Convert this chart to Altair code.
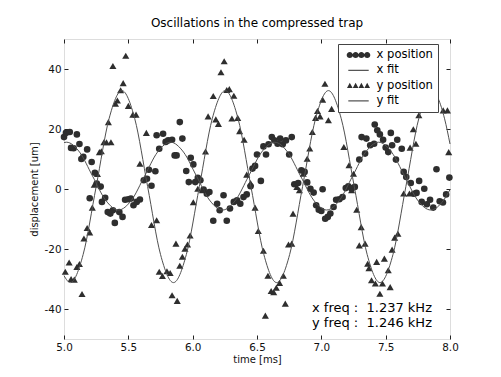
import altair as alt
import pandas as pd

# ---------------- data ----------------
# x position (circles)
x_pos = [
    (5.0, 17.3), (5.015, 18.7), (5.045, 19), (5.055, 13.7), (5.075, 13.6), (5.10, 18.2),
    (5.12, 15), (5.135, 10), (5.15, 10.7), (5.18, 13.2), (5.20, -3.1), (5.215, 9),
    (5.24, 5.4), (5.255, 1.8), (5.285, 0.8), (5.295, -4.3), (5.32, -2.9), (5.34, -7.7),
    (5.36, -8.2), (5.38, -7.1), (5.395, -11.3), (5.43, -7.7), (5.455, -9.3), (5.475, -3.6),
    (5.50, -3.4), (5.52, -3.2), (5.54, -5.4), (5.565, -4.3), (5.59, -3.5), (5.62, 2.9),
    (5.645, 3.4), (5.66, 6.4), (5.68, 1.1), (5.71, 5.9), (5.72, 17.9), (5.74, 13.4),
    (5.77, 18.4), (5.79, 15.7), (5.81, 16.2), (5.84, 16.4), (5.86, 11.2), (5.875, 11.2),
    (5.90, 22.3), (5.92, 16.8), (5.95, 6), (5.97, 2.3), (5.985, 10.4), (6.005, 8.2),
    (6.02, 2.3), (6.04, 3.7), (6.06, 2.9), (6.085, -0.2), (6.11, -1.6), (6.13, -1.0),
    (6.16, -10.6), (6.19, -4.9), (6.21, -7.1), (6.24, -2.1), (6.265, -10.6), (6.29, -6.5),
    (6.32, -4.3), (6.345, -3.8), (6.37, -4.9), (6.395, -2.7), (6.42, -1.8), (6.45, 0.9),
    (6.465, 6.8), (6.485, 7.7), (6.50, 11.5), (6.53, 2.7), (6.55, 14.2), (6.57, 11.5),
    (6.59, 14.9), (6.615, 17.3), (6.635, 16.2), (6.66, 15.1), (6.68, 16.8), (6.70, 14.9),
    (6.725, 16.2), (6.75, 11.5), (6.77, 17.3), (6.79, 1.6), (6.82, 2), (6.845, 6.2),
    (6.87, 5.7), (6.89, 2.2), (6.915, 0.1), (6.94, -1.2), (6.96, -5.4), (6.98, -6.9),
    (7.0, -7.3), (7.01, -0.1), (7.03, -9.9), (7.05, -9.3), (7.07, -8.2), (7.095, -6),
    (7.115, -3.6), (7.14, -3.4), (7.165, -2.7), (7.19, 0.3), (7.21, 0.9), (7.235, 0.2),
    (7.26, 0.7), (7.295, 9.8), (7.313, 17.3), (7.34, 11.8), (7.35, 16.8), (7.38, 14.6),
    (7.41, 15.1), (7.415, 21.5), (7.435, 19.6), (7.455, 18.2), (7.48, 16.4), (7.50, 13.8),
    (7.52, 12.3), (7.54, 18.7), (7.55, 14.6), (7.58, 9.8), (7.59, 16.4), (7.625, 13.4),
    (7.64, 5.7), (7.66, 4), (7.695, 2), (7.72, -1.6), (7.74, -1.3), (7.76, 2.7),
    (7.78, -4.3), (7.80, 0.1), (7.82, -5.1), (7.845, -3.6), (7.87, -6.2), (7.895, 6.6),
    (7.92, -4.1), (7.945, -4.5), (7.97, -1.8), (7.995, 3.8),
]
# y position (triangles)
y_pos = [
    (5.01, -27.6), (5.04, -24.5), (5.055, -30), (5.08, -30.2), (5.10, -26), (5.12, -25),
    (5.14, -35), (5.155, -16.5), (5.18, -13), (5.20, -14.5), (5.22, -6.2), (5.235, 1.4),
    (5.26, 5), (5.275, 12.3), (5.29, 12.6), (5.31, 15.6), (5.33, 15.6), (5.345, 22.3),
    (5.365, 15.6), (5.38, 41), (5.40, 28.4), (5.415, 29.5), (5.44, 32.9), (5.46, 35.3),
    (5.48, 44.4), (5.50, 27.7), (5.535, 24.8), (5.56, 24.8), (5.59, 8.4), (5.64, 18.7),
    (5.68, -12), (5.72, -10.4), (5.74, -27.6), (5.765, -29), (5.80, -27.4), (5.825, -28),
    (5.84, -35.4), (5.87, -18.2), (5.88, -37.3), (5.90, -25.6), (5.92, -22.6), (5.94, -19.9),
    (5.96, -18.5), (5.98, -15.5), (6.005, -4.4), (6.04, 0.1), (6.075, -0.4), (6.10, 12.5),
    (6.12, 24.2), (6.16, 31), (6.18, 23.2), (6.20, 21.7), (6.22, 38.9), (6.245, 42.6),
    (6.265, 33), (6.285, 33.3), (6.305, 23.5), (6.32, 31.1), (6.35, 23.7), (6.365, 19.3),
    (6.40, 16.4), (6.42, 4.8), (6.45, 2), (6.485, -6.2), (6.51, -14), (6.55, -20.6),
    (6.565, -42.2), (6.585, -28.9), (6.61, -34), (6.63, -34.4), (6.65, -32.9), (6.675, -31.3),
    (6.705, -28.9), (6.72, -38.2), (6.745, -18.5), (6.77, -18.2), (6.78, -8.2), (6.81, 0.7),
    (6.83, -0.4), (6.86, 5.1), (6.89, 10.1), (6.91, 13.5), (6.93, 19), (6.955, 23.7),
    (6.97, 26), (6.99, 24.2), (7.01, 29.8), (7.028, 35.1), (7.055, 22.9), (7.08, 26.7),
    (7.175, 14), (7.215, 7.9), (7.235, -0.4), (7.25, 5.1), (7.275, -6.9), (7.295, -18.8),
    (7.31, -12.7), (7.34, -18.2), (7.36, -24.9), (7.37, -26.4), (7.39, -30.4), (7.42, -31.5),
    (7.43, -24.3), (7.455, -34.9), (7.475, -31.5), (7.49, -23.2), (7.52, -27.1), (7.535, -32.7),
    (7.55, -20.2), (7.57, -16.2), (7.595, -14.9), (7.64, -1.5), (7.685, -1.5), (7.69, 13.8),
    (7.715, 19.9), (7.735, 15.1), (7.758, 24.6), (7.947, 26.2), (7.98, 26.2), (7.99, 12.3),
]
# fitted curves
xfit_t = [5.0, 5.02, 5.121, 5.222, 5.323, 5.424, 5.525, 5.626, 5.727, 5.828, 5.929, 6.03,
          6.131, 6.233, 6.334, 6.435, 6.536, 6.637, 6.738, 6.839, 6.94, 7.041, 7.142,
          7.243, 7.344, 7.445, 7.546, 7.647, 7.748, 7.85, 7.951, 8.0]
xfit_v = [15.5, 15.6, 12.3, 4.3, -3.7, -7.0, -3.7, 4.3, 12.3, 15.6, 12.3, 4.3,
          -3.7, -7.0, -3.7, 4.3, 12.3, 15.6, 12.3, 4.3, -3.7, -7.0, -3.7,
          4.3, 12.3, 15.6, 12.3, 4.3, -3.7, -7.0, -3.7, -0.2]
yfit_t = [5.0, 5.049, 5.149, 5.25, 5.35, 5.45, 5.55, 5.65, 5.75, 5.851, 5.951, 6.052,
          6.152, 6.253, 6.353, 6.453, 6.553, 6.653, 6.754, 6.854, 6.955, 7.055, 7.155,
          7.256, 7.356, 7.456, 7.557, 7.657, 7.757, 7.858, 7.958, 8.0]
yfit_v = [-28.9, -31.2, -21.8, 0.8, 23.4, 32.8, 23.4, 0.8, -21.8, -31.2, -21.8, 0.8,
          23.4, 32.8, 23.4, 0.8, -21.8, -31.2, -21.8, 0.8, 23.4, 32.8, 23.4,
          0.8, -21.8, -31.2, -21.8, 0.8, 23.4, 32.8, 23.4, 15.0]

x_ticks = [5.0, 5.5, 6.0, 6.5, 7.0, 7.5, 8.0]
y_ticks = [-40, -20, 0, 20, 40]
legend_names = ["x position", "x fit", "y position", "y fit"]
freq_lines = ["x freq :\u00a0 1.237 kHz", "y freq :\u00a0 1.246 kHz"]
title_text = "Oscillations in the compressed trap"

# ---------------- styling ----------------
F = "DejaVu Sans"
W, H = 386, 300
DOT = "#2e2e2e"
LINE = "#505050"
xs = alt.Scale(domain=[5, 8], nice=False, zero=False)
ys = alt.Scale(domain=[-50, 50], nice=False, zero=False)

df_x = pd.DataFrame(x_pos, columns=["t", "v"])
df_y = pd.DataFrame(y_pos, columns=["t", "v"])
df_xf = pd.DataFrame({"t": xfit_t, "v": xfit_v})
df_yf = pd.DataFrame({"t": yfit_t, "v": yfit_v})


def tick_axis(orient, offset, values):
    return alt.Axis(orient=orient, offset=offset, values=values, labels=False,
                    ticks=True, tickSize=4, tickColor="#222", tickWidth=1,
                    domain=False, grid=False, title=None)


main_x = alt.Axis(orient="bottom", values=x_ticks, format=".1f", ticks=False,
                  domain=False, grid=False, labelPadding=3, labelFontSize=10.4,
                  labelFont=F, labelColor="#111", labelFlush=False, labelOverlap=False,
                  title="time [ms]", titleFont=F, titleFontSize=10,
                  titleFontWeight="normal", titleColor="#111", titlePadding=2)
main_y = alt.Axis(orient="left", values=y_ticks, labelExpr="'' + datum.value",
                  ticks=False, domain=False, grid=False, labelPadding=3,
                  labelFontSize=10.4, labelFont=F, labelColor="#111",
                  labelFlush=False, labelOverlap=False,
                  title="displacement [um]", titleFont=F, titleFontSize=10,
                  titleFontWeight="normal", titleColor="#111", titlePadding=5)

circles = alt.Chart(df_x).mark_point(filled=True, size=44, color=DOT, opacity=1).encode(
    x=alt.X("t:Q", scale=xs, axis=main_x),
    y=alt.Y("v:Q", scale=ys, axis=main_y),
)
xfit = alt.Chart(df_xf).mark_line(color=LINE, strokeWidth=1, interpolate="monotone").encode(
    x=alt.X("t:Q", scale=xs, axis=tick_axis("top", -H, x_ticks)),
    y=alt.Y("v:Q", scale=ys, axis=tick_axis("right", -W, y_ticks)),
)
triangles = alt.Chart(df_y).mark_point(filled=True, shape="triangle-up", size=50,
                                       color=DOT, opacity=1).encode(
    x=alt.X("t:Q", scale=xs, axis=tick_axis("bottom", -H, x_ticks)),
    y=alt.Y("v:Q", scale=ys, axis=tick_axis("left", -W, y_ticks)),
)
yfit = alt.Chart(df_yf).mark_line(color=LINE, strokeWidth=1, interpolate="monotone").encode(
    x=alt.X("t:Q", scale=xs, axis=None),
    y=alt.Y("v:Q", scale=ys, axis=None),
)


# legend symbols: four markers in a row, like the original
def circle_row(r=0.52, centers=(-1.45, -0.48, 0.48, 1.45)):
    return "".join(
        f"M{c - r:.3f},0a{r},{r} 0 1,0 {2 * r},0a{r},{r} 0 1,0 {-2 * r},0" for c in centers)


def tri_row(hw=0.47, centers=(-1.45, -0.48, 0.48, 1.45)):
    return "".join(f"M{c - hw:.3f},0.42L{c:.3f},-0.48L{c + hw:.3f},0.42Z" for c in centers)


line_path = "M-1.7,-0.085H1.7V0.085H-1.7Z"
paths = [circle_row(), line_path, tri_row(), line_path]

legend_layer = alt.Chart(pd.DataFrame({"series": legend_names})).mark_point(
    filled=True, opacity=0, fill=DOT
).encode(
    shape=alt.Shape("series:N", scale=alt.Scale(domain=legend_names, range=paths),
                    legend=alt.Legend(title=None, orient="none", legendX=274, legendY=5,
                                      fillColor="white", strokeColor="#444",
                                      padding=5, symbolSize=144, symbolOffset=9.5,
                                      labelOffset=12, rowPadding=3.3,
                                      labelFontSize=11.6, labelFont=F, labelColor="black",
                                      symbolOpacity=1, symbolFillColor=DOT,
                                      symbolStrokeWidth=0, zindex=1)),
)

text_layer = alt.Chart(pd.DataFrame({"label": [freq_lines]})).mark_text(
    align="left", baseline="alphabetic", font=F, fontSize=13, lineHeight=15,
    color="black"
).encode(text="label", x=alt.value(248), y=alt.value(273))

chart = alt.layer(circles, xfit, triangles, yfit, legend_layer, text_layer).resolve_scale(
    x="independent", y="independent"
).properties(
    width=W, height=H,
    title=alt.TitleParams(title_text, font=F, fontSize=12, fontWeight="normal",
                          color="black", anchor="middle", offset=9),
    autosize=alt.AutoSizeParams(type="none"),
    padding={"left": 56, "top": 31, "right": 43, "bottom": 30},
).configure_view(stroke="#222", strokeWidth=1).configure(background="white")

chart.save("out.html", embed_options={"renderer": "svg", "actions": False})
